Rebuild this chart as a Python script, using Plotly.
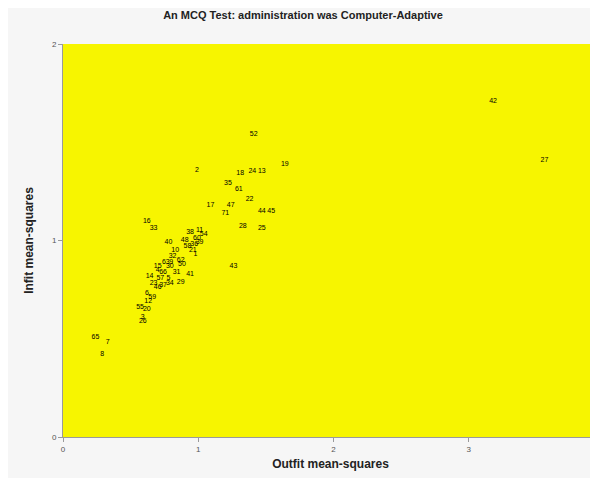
import plotly.graph_objects as go

items = ["52", "2", "19", "18", "24", "13", "35", "61", "22", "17", "47", "71", "44", "45",
         "28", "25", "43", "42", "27", "65", "7", "8", "16", "33", "40", "38", "11", "54",
         "60", "39", "58", "21", "32", "62", "50", "41", "29", "4", "66", "30", "9", "14",
         "57", "23", "37", "6", "59", "12", "55", "20", "3", "26", "10", "48", "36", "63",
         "15", "5", "31", "46", "1", "34"]
outfit = [1.41, 0.99, 1.64, 1.31, 1.40, 1.47, 1.22, 1.30, 1.38, 1.09, 1.24, 1.20, 1.47, 1.54,
          1.33, 1.47, 1.26, 3.18, 3.56, 0.24, 0.33, 0.29, 0.62, 0.67, 0.78, 0.94, 1.01, 1.04,
          0.99, 1.01, 0.92, 0.96, 0.81, 0.87, 0.88, 0.94, 0.87, 0.70, 0.74, 0.79, 0.80, 0.64,
          0.72, 0.67, 0.74, 0.62, 0.66, 0.63, 0.57, 0.62, 0.59, 0.59, 0.83, 0.90, 0.97, 0.76,
          0.70, 0.78, 0.84, 0.70, 0.98, 0.79]
infit = [1.54, 1.36, 1.39, 1.34, 1.35, 1.35, 1.29, 1.26, 1.21, 1.18, 1.18, 1.14, 1.15, 1.15,
         1.07, 1.06, 0.87, 1.71, 1.41, 0.51, 0.48, 0.42, 1.10, 1.06, 0.99, 1.04, 1.05, 1.03,
         1.01, 0.99, 0.97, 0.95, 0.92, 0.90, 0.88, 0.83, 0.79, 0.85, 0.84, 0.87, 0.89, 0.82,
         0.81, 0.78, 0.77, 0.73, 0.71, 0.69, 0.66, 0.65, 0.61, 0.59, 0.95, 1.00, 0.98, 0.89,
         0.87, 0.81, 0.84, 0.76, 0.93, 0.78]

x_ticks = [0, 1, 2, 3]
y_ticks = [0, 1, 2]

fig = go.Figure()
fig.add_trace(go.Scatter(
    x=outfit, y=infit, text=items, mode="text",
    textfont=dict(family="Liberation Sans, Arial", size=7, color="#000000"),
    textposition="middle center", hoverinfo="x+y+text", showlegend=False,
))

axis_common = dict(
    showgrid=False, zeroline=False, showline=True, linecolor="#9a9a9a", linewidth=1,
    ticks="outside", ticklen=4, tickcolor="#9a9a9a",
    tickfont=dict(family="Liberation Sans, Arial", size=8, color="#555555"),
    mirror=False,
)
fig.update_xaxes(range=[0, 3.956], tickvals=x_ticks, ticktext=[str(t) for t in x_ticks],
                 title=dict(text="<b>Outfit mean-squares</b>", standoff=7,
                            font=dict(family="Liberation Sans, Arial", size=12, color="#222222")),
                 **axis_common)
fig.update_yaxes(range=[0, 2], tickvals=y_ticks, ticktext=[str(t) for t in y_ticks],
                 title=dict(text="<b>Infit mean-squares</b>", standoff=15,
                            font=dict(family="Liberation Sans, Arial", size=12, color="#222222")),
                 **axis_common)

fig.update_layout(
    width=590, height=470,
    margin=dict(l=55, r=0, t=36, b=41),
    paper_bgcolor="#f6f6f6",
    plot_bgcolor="#f7f500",
    title=dict(text="<b>An MCQ Test: administration was Computer-Adaptive</b>",
               x=0.5, xanchor="center", y=0.985, yanchor="middle",
               font=dict(family="Liberation Sans, Arial", size=11, color="#222222")),
)

fig.write_html("out.html")
